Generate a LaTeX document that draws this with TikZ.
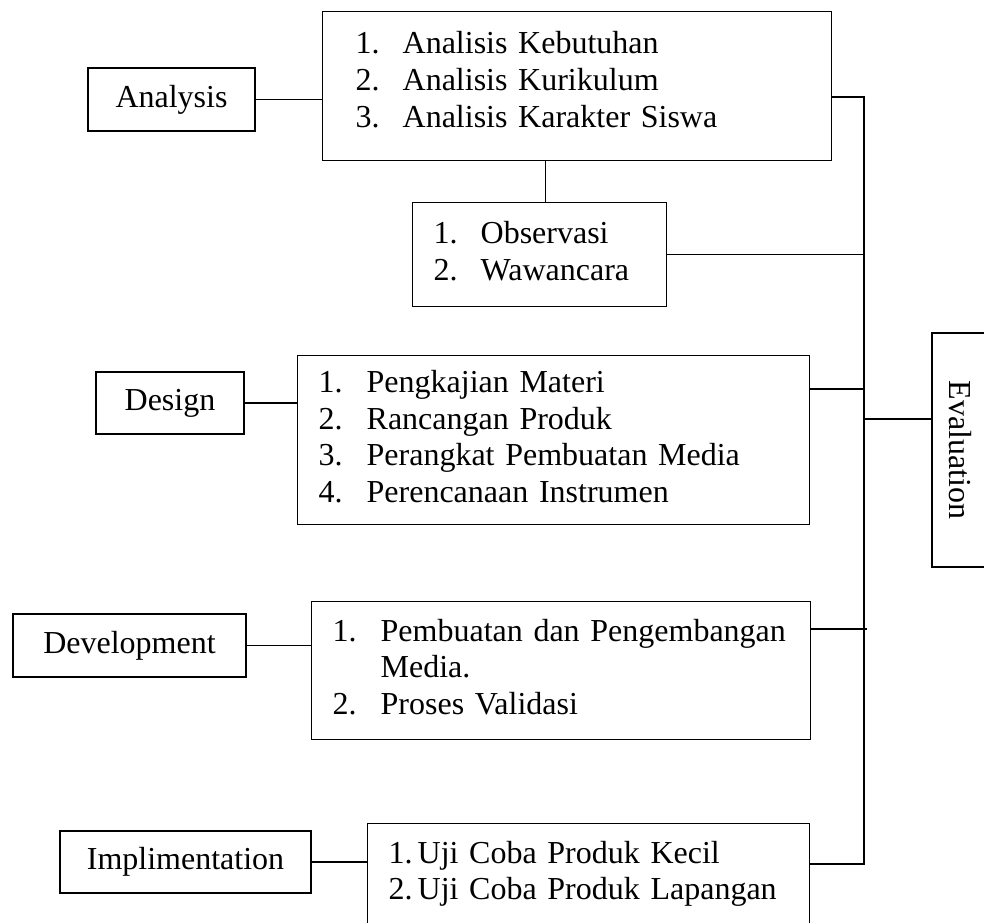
\documentclass[tikz,border=0pt]{standalone}
\usepackage{fontspec}
\setmainfont{Liberation Serif}
\newlength{\pxu}
\setlength{\pxu}{0.375pt}

\begin{document}
\begin{tikzpicture}[x=0.375pt,y=-0.375pt,font=\fontsize{12}{13.7}\selectfont,
	stage/.style={draw,line width=0.5pt,inner sep=0pt},
	listbox/.style={draw,line width=0.5pt,anchor=north west,align=left,inner ysep=0pt,inner xsep=21\pxu},
	link/.style={line width=0.6pt},
	bus/.style={line width=0.75pt}]
	\useasboundingbox (0,0) rectangle (984,922);
	\clip (0,0) rectangle (984,922);

	\node 	(ana)		at	(171.5,99.5) 	[stage,minimum width=167\pxu,minimum height=63\pxu]{Analysis};
	\node 	(akbox)		at	(322,11) 	[listbox,inner xsep=33\pxu,text width=443\pxu,minimum height=149\pxu]{\begin{tabular}{@{}p{47\pxu}@{}l@{}}
		1. & Analisis Kebutuhan\\
		2. & Analisis Kurikulum\\
		3. & Analisis Karakter Siswa\\[6\pxu]
	\end{tabular}};
	\node 	(obsbox)	at	(412,202) 	[listbox,text width=212\pxu,minimum height=104\pxu]{\begin{tabular}{@{}p{47\pxu}@{}l@{}}
		1. & Observasi\\
		2. & Wawancara
	\end{tabular}};

	\draw[link]	(ana)	--	(ana -| akbox.west);
	\draw[link]	([xshift=6\pxu]obsbox.north)	--	([xshift=6\pxu]obsbox.north |- akbox.south);



	\node 	(design)	at	(170,403) 	[stage,minimum width=148\pxu,minimum height=62\pxu]{Design};
	\node 	(desbox)	at	(297,355) 	[listbox,text width=470\pxu,minimum height=169\pxu]{\begin{tabular}{@{}p{48\pxu}@{}l@{}}
		1. & Pengkajian Materi\\
		2. & Rancangan Produk\\
		3. & Perangkat Pembuatan Media\\
		4. & Perencanaan Instrumen
	\end{tabular}};

	\draw[link]	(design)	--	(design -| desbox.west);



	\node 	(devel)		at	(129.5,645.5) 	[stage,minimum width=233\pxu,minimum height=63\pxu]{Development};
	\node 	(devbox)	at	(311,601) 	[listbox,text width=457\pxu,minimum height=138\pxu]{\begin{tabular}{@{}p{48\pxu}@{}l@{}}
		1. & \makebox[408\pxu][s]{Pembuatan dan Pengembangan}\\
		   & Media.\\
		2. & Proses Validasi
	\end{tabular}};

	\draw[link]	(devel)		--	(devel -| devbox.west);



	\node 	(impl)		at	(185.5,862) 	[stage,minimum width=251\pxu,minimum height=62\pxu]{Implimentation};
	\node 	(impbox)	at	(367,823) 	[listbox,text width=400\pxu,minimum height=101\pxu]{\begin{tabular}{@{}p{29\pxu}@{}l@{}}
		1. & Uji Coba Produk Kecil\\
		2. & Uji Coba Produk Lapangan
	\end{tabular}};

	\draw[link]	(impl)		--	(impl -| impbox.west);

%

	\node 	(eval)		at	(960,450) 	[stage,rotate=-90,minimum width=234\pxu,minimum height=56\pxu]{Evaluation};

	\coordinate	(bustop)	at	(864,97);
	\coordinate	(busdes)	at	(864,389);
	\coordinate	(buseval)	at	(864,419);
	\coordinate	(busdev)	at	(864,629);
	\coordinate	(busbot)	at	(864,864);

	\draw[bus]	(akbox.east |- bustop)	--	(bustop)	--	(busbot)	--	(impbox.east |- busbot);
	\draw[link]	(obsbox.east)		--	(obsbox.east -| bustop);
	\draw[link]	(desbox.east |- busdes)	--	(busdes);
	\draw[link]	(devbox.east |- busdev)	--	([xshift=3\pxu]busdev);
	\draw[link]	(buseval)		--	(buseval -| eval.south);

\end{tikzpicture}
\end{document}
